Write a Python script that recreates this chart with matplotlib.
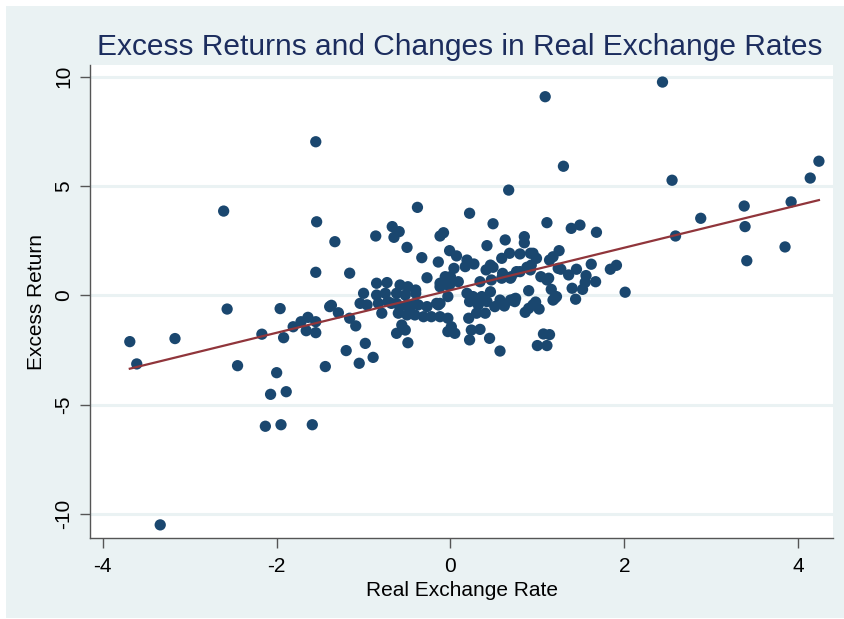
import numpy as np
import matplotlib
matplotlib.use("Agg")
import matplotlib.pyplot as plt
from matplotlib.patches import Rectangle

plt.rcParams['font.family'] = ['Liberation Sans', 'DejaVu Sans']
plt.rcParams['axes.unicode_minus'] = False

# real exchange rate change (x) and excess return (y)
rer = [
    -1.55, -2.61, -1.54, -1.33, -1.55, -2.57, -1.96, -1.39, -1.37, -1.29,
    -3.69, -3.61, -3.17, -2.17, -1.92, -1.81, -1.72, -1.64, -1.66, -1.55,
    -1.55, -2.45, -2.00, -2.07, -1.89, -1.44, -2.13, -1.95, -1.59, -3.34,
    1.09, 2.44, 1.30, 2.55, 4.14, 4.24, 0.67, 2.88, 2.59, 3.38,
    3.39, 3.41, 3.92, 3.85, 1.11, 1.39, 1.49, 1.68, 0.63, 0.85,
    0.85, 2.01, 1.07, 1.14, 1.00, 1.11, 0.57, 0.86, 0.90, 1.02,
    0.98, 0.73, 0.75, 0.62, 1.20, 1.44, 0.90, 1.16, 1.40, 1.52,
    1.67, 1.55, 1.56, 1.04, 1.13, 0.60, 0.69, 0.76, 1.45, 1.36,
    1.27, 1.24, 1.62, 1.84, 1.91, 0.88, 0.93, 1.14, 1.18, 1.25,
    0.95, 0.99, 0.80, 0.68, 0.59, -0.38, 0.22, 0.49, -0.86, -0.67,
    -0.59, -0.65, -0.50, -0.12, -0.08, 0.42, -0.33, -0.14, -0.01, 0.07,
    0.19, 0.27, 0.41, 0.49, -1.16, -0.27, 0.04, 0.00, -0.85, -0.73,
    -0.58, -0.49, -0.40, -0.12, -0.03, -1.00, -0.85, -0.75, -0.62, -0.52,
    -0.40, -1.04, -0.96, -0.83, -0.72, -0.62, -0.50, -0.41, -0.27, -0.14,
    -0.03, 0.17, 0.46, 0.92, -0.06, -0.12, -0.01, 0.09, 0.34, 0.47,
    0.59, 0.70, 0.80, 0.92, 1.11, 0.19, 0.26, 0.36, 0.46, 0.57,
    0.69, 1.22, -0.12, -1.16, -1.09, -0.79, -0.68, -0.60, -0.50, -0.41,
    -0.31, -0.22, -0.12, -0.03, -0.58, -0.47, -0.37, -0.16, -0.62, -0.52,
    -0.49, -0.56, -0.98, -1.20, -0.89, -1.05, -0.03, 0.22, 0.32, 0.42,
    0.51, 0.74, 0.95, 1.18, 0.30, 0.40, 0.21, 0.01, 0.05, 0.24,
    0.34, 0.22, 0.45,
]
excess = [
    7.03, 3.86, 3.37, 2.46, 1.06, -0.62, -0.60, -0.51, -0.45, -0.79,
    -2.11, -3.13, -1.97, -1.77, -1.93, -1.43, -1.20, -1.00, -1.61, -1.70,
    -1.20, -3.21, -3.53, -4.52, -4.40, -3.25, -5.98, -5.91, -5.91, -10.49,
    9.09, 9.76, 5.91, 5.27, 5.37, 6.14, 4.82, 3.53, 2.72, 4.09,
    3.15, 1.59, 4.28, 2.22, 3.33, 3.07, 3.22, 2.89, 2.54, 2.69,
    2.41, 0.15, -1.76, -1.79, -2.29, -2.29, -2.54, -0.77, -0.59, -0.62,
    -0.30, -0.17, -0.13, -0.48, -0.13, -0.17, 0.22, 0.28, 0.33, 0.28,
    0.63, 0.60, 0.91, 0.86, 0.79, 1.01, 0.79, 1.09, 1.20, 0.94,
    1.20, 1.24, 1.43, 1.20, 1.38, 1.29, 1.39, 1.62, 1.77, 2.05,
    1.93, 1.70, 1.90, 1.93, 1.70, 4.03, 3.76, 3.28, 2.72, 3.15,
    2.92, 2.66, 2.20, 2.72, 2.87, 2.28, 1.73, 1.53, 2.05, 1.81,
    1.62, 1.44, 1.17, 1.29, 1.02, 0.81, 1.24, 0.86, 0.56, 0.59,
    0.48, 0.40, 0.25, 0.40, 0.48, 0.10, 0.02, 0.10, 0.10, 0.02,
    0.10, -0.36, -0.43, -0.36, -0.28, -0.36, -0.43, -0.36, -0.51, -0.43,
    -0.05, 1.32, 1.39, 1.93, 0.86, 0.56, 0.48, 0.63, 0.63, 0.71,
    0.79, 0.86, 1.09, 1.17, 0.71, 0.10, -0.05, -0.05, 0.17, -0.21,
    -0.21, -0.05, -0.36, -1.04, -1.39, -0.81, -0.36, -0.81, -0.89, -0.89,
    -0.97, -0.97, -0.97, -1.04, -0.51, -0.59, -0.43, -0.36, -1.73, -1.58,
    -2.16, -1.35, -2.19, -2.52, -2.83, -3.10, -1.65, -0.28, -0.43, -0.28,
    -0.51, -0.28, -0.43, -0.21, -0.81, -0.81, -1.04, -1.43, -1.73, -1.58,
    -1.55, -2.03, -1.96,
]

x = np.array(rer)
y = np.array(excess)
slope, icpt = np.polyfit(x, y, 1)
xfit = np.array([x.min(), x.max()])

bg = '#eaf2f3'
fig = plt.figure(figsize=(8.44, 6.19), dpi=100, facecolor='white')
fig.patches.append(Rectangle((6 / 844, 1 / 619), 1, 612 / 619,
                             transform=fig.transFigure, facecolor=bg,
                             edgecolor='none', zorder=-10))
ax = fig.add_axes([90 / 844, 1 - 538 / 619, 743 / 844, 473 / 619])
ax.set_facecolor('white')

ax.scatter(x, y, s=66, color='#1a476f', edgecolors='none', zorder=3)
ax.plot(xfit, slope * xfit + icpt, color='#90353b', linewidth=1.6, zorder=4)

ax.set_xlim(-4.148, 4.402)
ax.set_ylim(-11.09, 10.54)
ax.set_xticks([-4, -2, 0, 2, 4])
ax.set_yticks([-10, -5, 0, 5, 10])
ax.set_yticklabels(['-10', '-5', '0', '5', '10'], rotation=90, va='center')
ax.grid(axis='y', color=bg, linewidth=2.2, zorder=0)
ax.set_axisbelow(True)

for s in ['top', 'right']:
    ax.spines[s].set_visible(False)
for s in ['left', 'bottom']:
    ax.spines[s].set_color('#555555')
    ax.spines[s].set_linewidth(1.0)
ax.tick_params(colors='#555555', labelcolor='black', length=7, width=1,
               labelsize=15)
ax.tick_params(axis='x', pad=7)
ax.tick_params(axis='y', pad=5)

ax.set_xlabel('Real Exchange Rate', fontsize=15, labelpad=3)
ax.set_ylabel('Excess Return', fontsize=15, labelpad=6)
fig.text(0.5444, 1 - 55 / 619, 'Excess Returns and Changes in Real Exchange Rates',
         ha='center', va='baseline', fontsize=21.5, color='#1c2d5e')

fig.savefig('out.png', dpi=100, facecolor=fig.get_facecolor())
